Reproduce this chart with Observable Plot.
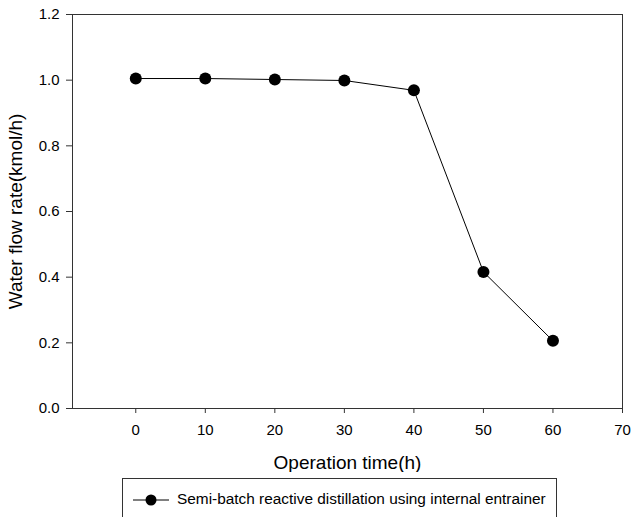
<!DOCTYPE html>
<html>
<head>
<meta charset="utf-8">
<script src="https://cdn.jsdelivr.net/npm/d3@7"></script>
<script src="https://cdn.jsdelivr.net/npm/@observablehq/plot@0.6"></script>
<style>
  body { margin: 0; background: #fff; font-family: "Liberation Sans", Arial, sans-serif; }
  #wrap { position: relative; width: 631px; height: 517px; overflow: hidden; background: #fff; }
  #chart svg { display: block; }
  g[aria-label="x-axis label"], g[aria-label="y-axis label"] { font-size: 19px; }
  #legend { position: absolute; left: 122px; top: 478px; width: 435px; height: 60px;
            border: 1px solid #333; box-sizing: border-box; background: #fff; }
  #legend svg { position: absolute; left: 9px; top: 15px; }
  #legend span { position: absolute; left: 54px; top: 11px; font-size: 15.4px; line-height: 18px; color: #000; white-space: nowrap; }
</style>
</head>
<body>
<div id="wrap">
  <div id="chart"></div>
  <div id="legend"></div>
</div>
<script>
// Data
const time = [0, 10, 20, 30, 40, 50, 60];
const flow = [1.005, 1.005, 1.002, 0.999, 0.969, 0.416, 0.206];
const xTicks = [0, 10, 20, 30, 40, 50, 60, 70];
const yTicks = [0.0, 0.2, 0.4, 0.6, 0.8, 1.0, 1.2];
const xLabel = "Operation time(h)";
const yLabel = "Water flow rate(kmol/h)";
const seriesName = "Semi-batch reactive distillation using internal entrainer";

const data = time.map((t, i) => ({t, v: flow[i]}));

const chart = Plot.plot({
  width: 631,
  height: 472,
  marginLeft: 72,
  marginRight: 9,
  marginTop: 14,
  marginBottom: 64,
  style: {fontFamily: "'Liberation Sans', Arial, sans-serif", fontSize: "15px", color: "#000", background: "#fff"},
  x: {domain: [-9.1, 70]},
  y: {domain: [0, 1.2]},
  marks: [
    Plot.frame({stroke: "#333", strokeWidth: 1}),
    Plot.axisX({ticks: xTicks, tickFormat: d => String(d), tickSize: 5, tickPadding: 11,
      stroke: "#333", fill: "#000", fontSize: 15,
      label: xLabel, labelAnchor: "center", labelArrow: "none", labelOffset: 60}),
    Plot.axisY({ticks: yTicks, tickFormat: d3.format(".1f"), tickSize: 6, tickPadding: 7,
      stroke: "#333", fill: "#000", fontSize: 15,
      label: yLabel, labelAnchor: "center", labelArrow: "none", labelOffset: 64}),
    Plot.line(data, {x: "t", y: "v", stroke: "#000", strokeWidth: 1}),
    Plot.dot(data, {x: "t", y: "v", r: 6, fill: "#000", stroke: "none"})
  ]
});
document.getElementById("chart").appendChild(chart);

// Legend (below the plot SVG)
const legend = document.getElementById("legend");
const ns = "http://www.w3.org/2000/svg";
const sym = document.createElementNS(ns, "svg");
sym.setAttribute("width", "38");
sym.setAttribute("height", "12");
const ln = document.createElementNS(ns, "line");
ln.setAttribute("x1", "1"); ln.setAttribute("x2", "37");
ln.setAttribute("y1", "6"); ln.setAttribute("y2", "6");
ln.setAttribute("stroke", "#000"); ln.setAttribute("stroke-width", "1");
const c = document.createElementNS(ns, "circle");
c.setAttribute("cx", "19"); c.setAttribute("cy", "6"); c.setAttribute("r", "5.5");
c.setAttribute("fill", "#000");
sym.appendChild(ln); sym.appendChild(c);
legend.appendChild(sym);
const span = document.createElement("span");
span.textContent = seriesName;
legend.appendChild(span);
</script>
</body>
</html>
